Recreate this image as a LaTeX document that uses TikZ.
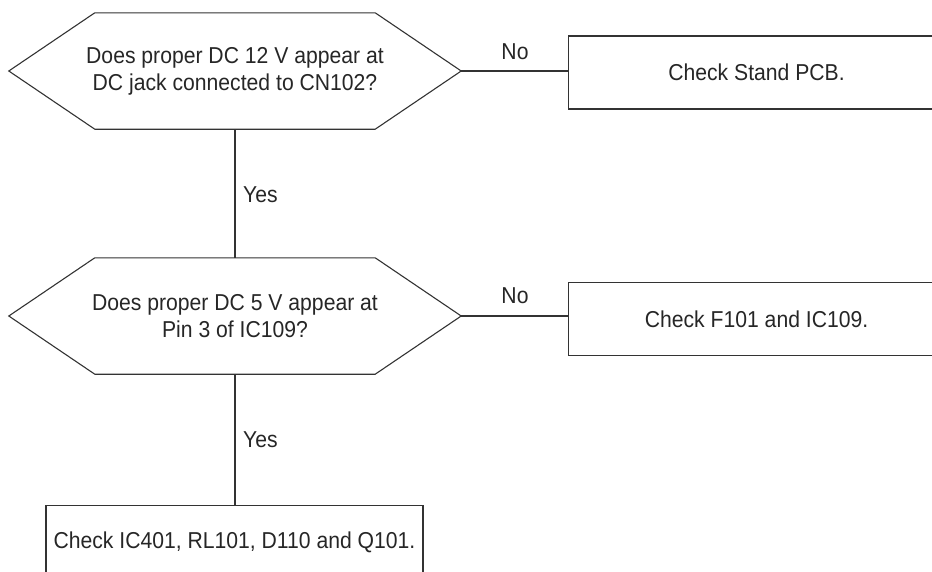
\documentclass[tikz,border=0pt]{standalone}
\usepackage{fontspec}
\setmainfont{Liberation Sans}[FakeStretch=0.92]
\begin{document}
\begin{tikzpicture}[x=1pt,y=-1pt,
  line/.style={draw=black!80,line width=1.1pt},
  txt/.style={font=\fontsize{23}{27}\selectfont,text=black!85,align=center},
  hexbox/.style={minimum width=452pt,minimum height=116pt,inner sep=0pt,txt},
  checkbox/.style={line,minimum width=376pt,minimum height=73pt,inner sep=0pt,txt},
  lbl/.style={txt,inner sep=0pt}]
\useasboundingbox (0,0) rectangle (932,571);
\clip (0,0) rectangle (932,571);
% decisions
\node[hexbox] (q1) at (235,71) {Does proper DC 12 V appear at\\DC jack connected to CN102?};
\node[hexbox] (q2) at (235,316) {Does proper DC 5 V appear at\\Pin 3 of IC109?};
\foreach \q in {q1,q2}{
  \draw[line] (\q.west) -- ([xshift=86pt]\q.north west) -- ([xshift=-86pt]\q.north east)
    -- (\q.east) -- ([xshift=-86pt]\q.south east) -- ([xshift=86pt]\q.south west) -- cycle;
}
% actions
\node[checkbox,anchor=west] (a1) at (568,72.5) {Check Stand PCB.};
\node[checkbox,anchor=west] (a2) at (568,319) {Check F101 and IC109.};
\node[checkbox,minimum width=377pt,anchor=north] (a3) at (234.5,505) {Check IC401, RL101, D110 and Q101.};
% connectors
\draw[line] (q1.east) -- (a1.west |- q1.east) coordinate (e1);
\draw[line] (q2.east) -- (a2.west |- q2.east) coordinate (e2);
\draw[line] (q1.south) -- (q2.north);
\draw[line] (q2.south) -- (a3.north -| q2.south);
% labels
\node[lbl] (n1) at (515,52) {No};
\node[lbl] (n2) at (515,296) {No};
\node[lbl,anchor=west] (y1) at (243,195) {Yes};
\node[lbl,anchor=west] (y2) at (243,440) {Yes};
\end{tikzpicture}
\end{document}
